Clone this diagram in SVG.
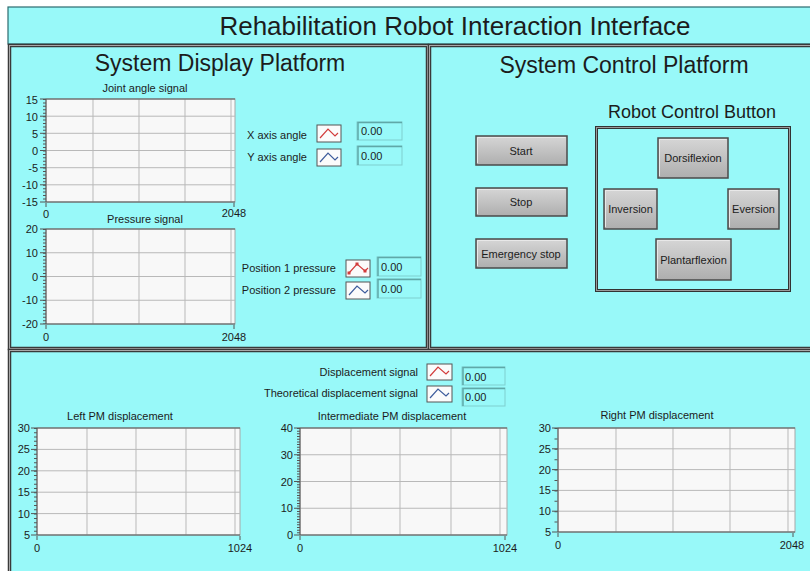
<svg xmlns="http://www.w3.org/2000/svg" width="810" height="571" viewBox="0 0 810 571">
<defs>
<linearGradient id="btn" x1="0" y1="0" x2="0" y2="1">
<stop offset="0" stop-color="#d6d6d6"/>
<stop offset="0.5" stop-color="#c2c2c2"/>
<stop offset="1" stop-color="#aeaeae"/>
</linearGradient>
<style>
text{font-family:"Liberation Sans",Arial,sans-serif;fill:#1c1c1c}
.h1{font-size:26px;text-anchor:middle}
.h2{font-size:23px;text-anchor:middle}
.h3{font-size:18px;text-anchor:middle}
.s{font-size:11px}
.m{text-anchor:middle}
.e{text-anchor:end}
.panel{fill:#98f9f9;stroke:#3a3a3a;stroke-width:3.5}
.pin{fill:none;stroke:#a8a8a8;stroke-width:1}
.plot{fill:#f8f8f8;stroke:#a8a8a8;stroke-width:1}
.grid{stroke:#b9b9b9;stroke-width:1;fill:none}
.ax{stroke:#555;stroke-width:1;fill:none}
.minor{stroke:#555;stroke-width:3;fill:none}
.btn{fill:url(#btn);stroke:#4a4a4a;stroke-width:1.5}
.bhi{fill:none;stroke:#e8e8e8;stroke-width:1}
.num{fill:#98f9f9;stroke:#7ecfcf;stroke-width:1}
.numin{fill:none;stroke:#5fa8a8;stroke-width:1.5}
.icon{fill:#fbfbfb;stroke:#555;stroke-width:1}
.red{fill:none;stroke:#d23b3b;stroke-width:1.2}
.blue{fill:none;stroke:#3d5c9c;stroke-width:1.2}
</style>
</defs>
<rect x="0" y="0" width="810" height="571" fill="#ffffff"/>

<g id="title-bar">
<rect x="8" y="7" width="810" height="37" fill="#98f9f9" stroke="#2b6a6e" stroke-width="1.2"/>
<text class="h1" x="455" y="35">Rehabilitation Robot Interaction Interface</text>
</g>

<g id="display-panel">
<rect class="panel" x="9.5" y="45.5" width="418" height="303"/>
<rect class="pin" x="9.5" y="45.5" width="418" height="303"/>
<text class="h2" x="220" y="71">System Display Platform</text>
</g>

<g id="joint-angle-graph">
<text class="s m" x="145" y="92">Joint angle signal</text>
<rect class="plot" x="46" y="99" width="189" height="103"/>
<path class="grid" d="M93 99V202M139 99V202M185 99V202M231 99V202M46 116.2H235M46 133.3H235M46 150.5H235M46 167.7H235M46 184.8H235"/>
<path class="ax" d="M46 99V202H235M46 99H235"/>
<line class="minor" x1="44.5" y1="99" x2="44.5" y2="202" stroke-dasharray="1 2.43"/>
<path class="ax" d="M40 99H46M40 116.2H46M40 133.3H46M40 150.5H46M40 167.7H46M40 184.8H46M40 202H46M46 203V207M234 203V207"/>
<text class="s e" x="38" y="104">15</text>
<text class="s e" x="38" y="121">10</text>
<text class="s e" x="38" y="138">5</text>
<text class="s e" x="38" y="155">0</text>
<text class="s e" x="38" y="172">-5</text>
<text class="s e" x="38" y="189">-10</text>
<text class="s e" x="38" y="206">-15</text>
<text class="s m" x="46" y="218">0</text>
<text class="s m" x="234" y="217">2048</text>
</g>

<g id="angle-legend">
<text class="s e" x="307" y="139">X axis angle</text>
<rect class="icon" x="317" y="125" width="24" height="17"/>
<path class="red" d="M320 138L328 129L335 136L338 133"/>
<rect class="num" x="357" y="122" width="45" height="18"/>
<path class="numin" d="M358 140V122.5H402"/>
<text class="s" x="361" y="135">0.00</text>
<text class="s e" x="307" y="161">Y axis angle</text>
<rect class="icon" x="317" y="149" width="24" height="17"/>
<path class="blue" d="M320 162L328 153L335 160L338 157"/>
<rect class="num" x="357" y="146" width="45" height="19"/>
<path class="numin" d="M358 165V146.5H402"/>
<text class="s" x="361" y="160">0.00</text>
</g>

<g id="pressure-graph">
<text class="s m" x="145" y="223">Pressure signal</text>
<rect class="plot" x="46" y="229" width="189" height="95"/>
<path class="grid" d="M93 229V324M139 229V324M185 229V324M231 229V324M46 252.75H235M46 276.5H235M46 300.25H235"/>
<path class="ax" d="M46 229V324H235M46 229H235"/>
<line class="minor" x1="44.5" y1="229" x2="44.5" y2="324" stroke-dasharray="1 2.375"/>
<path class="ax" d="M40 229H46M40 252.75H46M40 276.5H46M40 300.25H46M40 324H46M46 325V329M234 325V329"/>
<text class="s e" x="38" y="233">20</text>
<text class="s e" x="38" y="257">10</text>
<text class="s e" x="38" y="281">0</text>
<text class="s e" x="38" y="304">-10</text>
<text class="s e" x="38" y="328">-20</text>
<text class="s m" x="46" y="341">0</text>
<text class="s m" x="234" y="341">2048</text>
</g>

<g id="pressure-legend">
<text class="s e" x="336" y="272">Position 1 pressure</text>
<rect class="icon" x="346" y="260" width="24" height="17"/>
<path class="red" d="M349 273L357 264L365 271L368 268"/>
<g fill="#d23b3b"><rect x="347.5" y="271.5" width="3" height="3"/><rect x="355.5" y="262.5" width="3" height="3"/><rect x="363.5" y="269.5" width="3" height="3"/></g>
<rect class="num" x="377" y="257" width="44" height="19"/>
<path class="numin" d="M378 276V257.5H421"/>
<text class="s" x="381" y="271">0.00</text>
<text class="s e" x="336" y="294">Position 2 pressure</text>
<rect class="icon" x="346" y="282" width="24" height="17"/>
<path class="blue" d="M349 295L357 286L365 293L368 290"/>
<rect class="num" x="377" y="279" width="44" height="19"/>
<path class="numin" d="M378 298V279.5H421"/>
<text class="s" x="381" y="293">0.00</text>
</g>

<g id="control-panel">
<rect class="panel" x="429.5" y="45.5" width="390" height="303"/>
<rect class="pin" x="429.5" y="45.5" width="390" height="303"/>
<text class="h2" x="624" y="73">System Control Platform</text>
</g>

<g id="btn-start">
<rect class="btn" x="476" y="136" width="91" height="29"/>
<path class="bhi" d="M477.5 163V137.5H565.5"/>
<text class="s m" x="521" y="155">Start</text>
</g>
<g id="btn-stop">
<rect class="btn" x="476" y="188" width="91" height="28"/>
<path class="bhi" d="M477.5 214V189.5H565.5"/>
<text class="s m" x="521" y="206">Stop</text>
</g>
<g id="btn-emergency">
<rect class="btn" x="476" y="239" width="91" height="29"/>
<path class="bhi" d="M477.5 266V240.5H565.5"/>
<text class="s m" x="521" y="258">Emergency stop</text>
</g>

<g id="robot-control">
<text class="h3" x="692" y="118">Robot Control Button</text>
<rect x="596.5" y="127.5" width="193" height="163" fill="none" stroke="#333" stroke-width="3"/>
<rect x="596.5" y="127.5" width="193" height="163" fill="none" stroke="#9a9a9a" stroke-width="1"/>
</g>
<g id="btn-dorsiflexion">
<rect class="btn" x="658" y="138" width="70" height="40"/>
<path class="bhi" d="M659.5 176V139.5H726.5"/>
<text class="s m" x="693" y="162">Dorsiflexion</text>
</g>
<g id="btn-inversion">
<rect class="btn" x="604" y="189" width="53" height="40"/>
<path class="bhi" d="M605.5 227V190.5H655.5"/>
<text class="s m" x="630.5" y="213">Inversion</text>
</g>
<g id="btn-eversion">
<rect class="btn" x="728" y="189" width="51" height="40"/>
<path class="bhi" d="M729.5 227V190.5H777.5"/>
<text class="s m" x="753.5" y="213">Eversion</text>
</g>
<g id="btn-plantarflexion">
<rect class="btn" x="656" y="239" width="75" height="41"/>
<path class="bhi" d="M657.5 278V240.5H729.5"/>
<text class="s m" x="693.5" y="264">Plantarflexion</text>
</g>

<g id="bottom-panel">
<rect class="panel" x="9.5" y="350.5" width="810" height="240"/>
<rect class="pin" x="9.5" y="350.5" width="810" height="240"/>
</g>

<g id="displacement-legend">
<text class="s e" x="418" y="376">Displacement signal</text>
<rect class="icon" x="427" y="364" width="25" height="16"/>
<path class="red" d="M430 376L438 367L446 374L449 371"/>
<rect class="num" x="462" y="367" width="43" height="18"/>
<path class="numin" d="M463 385V367.5H505"/>
<text class="s" x="465" y="381">0.00</text>
<text class="s e" x="418" y="397">Theoretical displacement signal</text>
<rect class="icon" x="427" y="386" width="25" height="16"/>
<path class="blue" d="M430 398L438 389L446 396L449 393"/>
<rect class="num" x="462" y="388" width="43" height="18"/>
<path class="numin" d="M463 406V388.5H505"/>
<text class="s" x="465" y="401">0.00</text>
</g>

<g id="left-pm-graph">
<text class="s m" x="120" y="420">Left PM displacement</text>
<rect class="plot" x="37" y="428" width="203" height="107"/>
<path class="grid" d="M87 428V535M136 428V535M186 428V535M235 428V535M37 449.4H240M37 470.8H240M37 492.2H240M37 513.6H240"/>
<path class="ax" d="M37 428V535H240M37 428H240"/>
<line class="minor" x1="35.5" y1="428" x2="35.5" y2="535" stroke-dasharray="1 3.28"/>
<path class="ax" d="M31 428H37M31 449.4H37M31 470.8H37M31 492.2H37M31 513.6H37M31 535H37M37 536V540M240 536V540"/>
<text class="s e" x="30" y="432">30</text>
<text class="s e" x="30" y="453">25</text>
<text class="s e" x="30" y="475">20</text>
<text class="s e" x="30" y="496">15</text>
<text class="s e" x="30" y="518">10</text>
<text class="s e" x="30" y="539">5</text>
<text class="s m" x="37" y="552">0</text>
<text class="s m" x="240" y="552">1024</text>
</g>

<g id="intermediate-pm-graph">
<text class="s m" x="392" y="420">Intermediate PM displacement</text>
<rect class="plot" x="300" y="428" width="207" height="107"/>
<path class="grid" d="M351 428V535M400 428V535M451 428V535M500 428V535M300 454.75H507M300 481.5H507M300 508.25H507"/>
<path class="ax" d="M300 428V535H507M300 428H507"/>
<line class="minor" x1="298.5" y1="428" x2="298.5" y2="535" stroke-dasharray="1 1.675"/>
<path class="ax" d="M294 428H300M294 454.75H300M294 481.5H300M294 508.25H300M294 535H300M300 536V540M505 536V540"/>
<text class="s e" x="293" y="432">40</text>
<text class="s e" x="293" y="459">30</text>
<text class="s e" x="293" y="486">20</text>
<text class="s e" x="293" y="512">10</text>
<text class="s e" x="293" y="539">0</text>
<text class="s m" x="300" y="552">0</text>
<text class="s m" x="505" y="552">1024</text>
</g>

<g id="right-pm-graph">
<text class="s m" x="657" y="419">Right PM displacement</text>
<rect class="plot" x="558" y="428" width="237" height="104"/>
<path class="grid" d="M616 428V532M673 428V532M730 428V532M788 428V532M558 448.8H795M558 469.6H795M558 490.4H795M558 511.2H795"/>
<path class="ax" d="M558 428V532H795M558 428H795"/>
<line class="minor" x1="556" y1="428" x2="556" y2="532" stroke-dasharray="1 9.4"/>
<path class="ax" d="M552 428H558M552 448.8H558M552 469.6H558M552 490.4H558M552 511.2H558M552 532H558M558 533V537M793 533V537"/>
<text class="s e" x="551" y="432">30</text>
<text class="s e" x="551" y="453">25</text>
<text class="s e" x="551" y="474">20</text>
<text class="s e" x="551" y="494">15</text>
<text class="s e" x="551" y="515">10</text>
<text class="s e" x="551" y="536">5</text>
<text class="s m" x="558" y="549">0</text>
<text class="s m" x="792" y="549">2048</text>
</g>
</svg>
